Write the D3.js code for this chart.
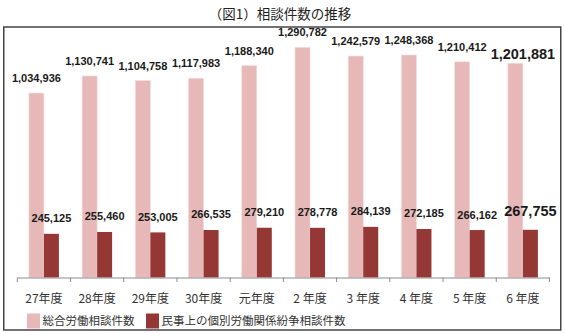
<!DOCTYPE html>
<html><head><meta charset="utf-8">
<script src="https://cdn.jsdelivr.net/npm/d3@7"></script>
<style>
html,body{margin:0;padding:0;background:#fff;}
svg{display:block;}
</style></head>
<body>
<svg id="chart" width="565" height="333"></svg>
<script>
const title = "（図1）相談件数の推移";
const categories = ["27年度","28年度","29年度","30年度","元年度","2 年度","3 年度","4 年度","5 年度","6 年度"];
const totalConsultations = [1034936,1130741,1104758,1117983,1188340,1290782,1242579,1248368,1210412,1201881];
const civilDisputes = [245125,255460,253005,266535,279210,278778,284139,272185,266162,267755];
const seriesNames = ["総合労働相談件数","民事上の個別労働関係紛争相談件数"];
const yMax = 1400000;

const svg = d3.select("#chart");
const W = 565, H = 333;
const colors = ["#E6B9B8","#953735"];
const cjk = "'Noto Sans CJK JP','Noto Sans',sans-serif";
const numFont = "'Liberation Sans',Arial,sans-serif";

svg.append("rect").attr("width",W).attr("height",H).attr("fill","#fff");

// title
svg.append("text").attr("x",280).attr("y",19).attr("text-anchor","middle")
  .attr("font-family",cjk).attr("font-size",13.5).attr("fill","#222").text(title);

// frame
svg.append("rect").attr("x",3.75).attr("y",27).attr("width",557).attr("height",303)
  .attr("fill","none").attr("stroke","#444").attr("stroke-width",1.5);

const x = d3.scaleBand().domain(categories).range([17.3,549.5]).padding(0);
const y = d3.scaleLinear().domain([0,yMax]).range([277.5,28]);
const bw = 15;

const g = svg.append("g");
const last = categories.length-1;

categories.forEach((c,i)=>{
  const cx = x(c)+x.bandwidth()/2;
  // pink bar
  g.append("rect").attr("x",cx-bw).attr("y",y(totalConsultations[i]))
    .attr("width",bw).attr("height",y(0)-y(totalConsultations[i]))
    .attr("fill",colors[0]).attr("stroke","#F2DCDB").attr("stroke-width",0.6);
  g.append("rect").attr("x",cx).attr("y",y(civilDisputes[i]))
    .attr("width",bw).attr("height",y(0)-y(civilDisputes[i]))
    .attr("fill",colors[1]);
});

// x axis
const axis = svg.append("g").attr("transform","translate(0,277.5)")
  .call(d3.axisBottom(x).tickSize(0).tickFormat(""));
axis.select(".domain").attr("stroke","#8c8c8c");
const bounds = categories.map(c=>x(c)).concat([x(categories[last])+x.bandwidth()]);
axis.selectAll(".bt").data(bounds).enter().append("line").attr("class","bt")
  .attr("x1",d=>d).attr("x2",d=>d).attr("y1",0).attr("y2",4.5).attr("stroke","#8c8c8c");

svg.append("g").selectAll("text").data(categories).enter().append("text")
  .attr("x",d=>x(d)+x.bandwidth()/2).attr("y",302.5).attr("text-anchor","middle")
  .attr("font-family",cjk).attr("font-size",12).attr("fill","#333").text(d=>d);

// value labels
const fmt = d3.format(",");
categories.forEach((c,i)=>{
  const cx = x(c)+x.bandwidth()/2;
  const big = i===last;
  const fs = big?14.5:11;
  g.append("text")
    .attr("x", big ? cx : cx-bw/2)
    .attr("y", y(totalConsultations[i]) - (big?4:11))
    .attr("text-anchor","middle").attr("font-family",numFont).attr("font-weight","bold")
    .attr("font-size",fs).attr("fill","#1a1a1a").text(fmt(totalConsultations[i]));
  g.append("text")
    .attr("x", cx+bw/2)
    .attr("y", y(civilDisputes[i]) - (big?14:11.5))
    .attr("text-anchor","middle").attr("font-family",numFont).attr("font-weight","bold")
    .attr("font-size",fs).attr("fill","#1a1a1a").text(fmt(civilDisputes[i]));
});

// legend
const lg = svg.append("g");
const legendX = [27,146];
seriesNames.forEach((n,i)=>{
  lg.append("rect").attr("x",legendX[i]).attr("y",313.5).attr("width",13).attr("height",15).attr("fill",colors[i]);
  lg.append("text").attr("x",legendX[i]+15.5).attr("y",325).attr("font-family",cjk)
    .attr("font-size",11.5).attr("fill","#333").text(n);
});
</script>
</body></html>
